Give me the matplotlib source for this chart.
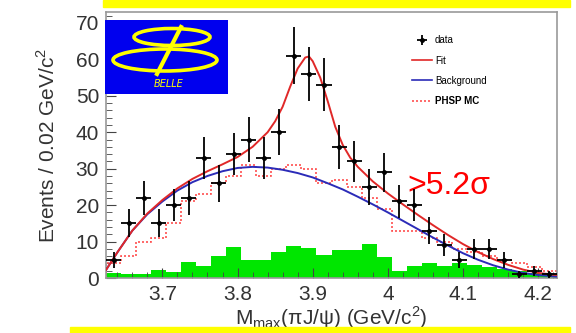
import numpy as np
import matplotlib.pyplot as plt
from matplotlib.patches import Rectangle, Ellipse
from matplotlib.lines import Line2D
from matplotlib.ticker import MultipleLocator

plt.rcParams['font.family'] = ['Liberation Sans', 'DejaVu Sans']
plt.rcParams['mathtext.fontset'] = 'custom'
plt.rcParams['mathtext.rm'] = 'Liberation Sans'

# bins of 0.02 GeV/c^2
BIN_LO = 3.625
BIN_W = 0.02
data_y = [5, 15, 22, 15, 20, 22, 33, 26, 34, 38,
          33, 40, 61, 56, 53, 36, 32, 25, 29, 21,
          20, 13, 9, 5, 8, 8, 5, 1, 2, 1]
sideband = [1.5, 1, 1, 2.2, 1.7, 4.5, 3.4, 6.1, 8.4, 5,
            5, 7.2, 8.8, 8.2, 6.4, 7.7, 7.7, 9.2, 5.8, 2,
            3.3, 4.2, 3.3, 4, 3.6, 3.1, 2.6, 2, 1.3, 1]
phsp = [4, 6, 10, 11, 15, 21, 23, 26, 28, 31,
        28, 30, 31, 30, 26, 27, 25, 22, 19, 13,
        13, 11, 10, 8, 7, 6, 5, 4, 3, 2]

# curves
bkg_x = [3.625, 3.64, 3.66, 3.68, 3.70, 3.72, 3.74, 3.76, 3.78, 3.80, 3.82,
         3.84, 3.86, 3.88, 3.90, 3.92, 3.94, 3.96, 3.98, 4.00, 4.02, 4.04,
         4.06, 4.08, 4.10, 4.12, 4.14, 4.16, 4.18, 4.20, 4.225]
bkg_y = [2.2, 7, 13, 17.5, 21, 24, 26.3, 28, 29.3, 30.2, 30.5,
         30.3, 29.7, 28.8, 27.6, 26, 24.3, 22.3, 20.2, 18, 15.7, 13.4,
         11.1, 8.9, 6.8, 5, 3.5, 2.3, 1.4, 0.8, 0.4]
fit_x = [3.625, 3.64, 3.66, 3.68, 3.70, 3.72, 3.74, 3.76, 3.78, 3.80, 3.82,
         3.84, 3.85, 3.86, 3.87, 3.88, 3.89, 3.895, 3.90, 3.91, 3.92, 3.93,
         3.94, 3.95, 3.96, 3.98, 4.00, 4.02, 4.04, 4.06, 4.08, 4.10, 4.12,
         4.14, 4.16, 4.18, 4.20, 4.225]
fit_y = [2.2, 7, 13, 17.7, 21.4, 24.6, 27.2, 29.3, 31.2, 33.2, 36,
         40, 43, 47, 52.5, 57.5, 60.5, 60.8, 59.5, 55, 48.5, 41.5,
         36.5, 33, 30.5, 26.5, 23.2, 20.2, 17.3, 14.5, 11.8, 9.3, 7.1,
         5.2, 3.6, 2.3, 1.4, 0.8]

edges = BIN_LO + BIN_W * np.arange(len(data_y) + 1)
centers = 0.5 * (edges[:-1] + edges[1:])
data_y = np.array(data_y, dtype=float)

fig = plt.figure(figsize=(5.76, 3.33), dpi=100)
W, H = 576, 333

# yellow slide decorations
fig.patches.append(Rectangle((103 / W, 1 - 7 / H), (570 - 103) / W, 7 / H,
                             transform=fig.transFigure, color='#ffff00', zorder=0))
fig.patches.append(Rectangle((70 / W, 0), (570 - 70) / W, 6 / H,
                             transform=fig.transFigure, color='#ffff00', zorder=0))

ax = fig.add_axes([106 / W, 1 - 278 / H, (557 - 106) / W, (278 - 12) / H])

ax.stairs(sideband, edges, fill=True, color='#00e600', lw=0, zorder=1)
ax.stairs(phsp, edges, color='#ff5050', ls=(0, (1.2, 1.2)), lw=1.2, zorder=2)
ax.plot(bkg_x, bkg_y, color='#2b2bb8', lw=1.4, zorder=3)
ax.plot(fit_x, fit_y, color='#e02828', lw=1.4, zorder=3)
eb = ax.errorbar(centers, data_y, yerr=np.sqrt(data_y), xerr=BIN_W / 2, fmt='o',
                 ms=2.5, color='black', ecolor='black', elinewidth=1.3, capsize=0,
                 zorder=4)

ax.set_xlim(edges[0], edges[-1])
ax.set_ylim(0, 73)
ax.xaxis.set_major_locator(MultipleLocator(0.1))
ax.xaxis.set_minor_locator(MultipleLocator(0.02))
ax.yaxis.set_major_locator(MultipleLocator(10))
ax.yaxis.set_minor_locator(MultipleLocator(2))
ax.set_xticks([3.7, 3.8, 3.9, 4.0, 4.1, 4.2], ['3.7', '3.8', '3.9', '4', '4.1', '4.2'])
ax.tick_params(which='both', direction='in', labelsize=15, colors='#444444',
               labelcolor='#333333')
ax.tick_params(which='major', length=7, width=0.8)
ax.tick_params(which='minor', length=4, width=0.6)
ax.tick_params(axis='x', pad=5)
ax.tick_params(axis='y', pad=5)
for s in ax.spines.values():
    s.set_color('#999999')
    s.set_linewidth(1.2)

ax.set_ylabel('Events / 0.02 GeV/c$^2$', fontsize=15, color='#333333', labelpad=12)
ax.set_xlabel(r'M$_{\rm max}$(πJ/ψ) (GeV/c$^2$)', fontsize=15,
              color='#333333', labelpad=0)

ax.text(0.668, 0.315, '>5.2σ', transform=ax.transAxes, color='#ff0000',
        fontsize=23, ha='left', va='baseline')

handles = [
    eb,
    Line2D([], [], color='#e02828', lw=1.2),
    Line2D([], [], color='#2b2bb8', lw=1.2),
    Line2D([], [], color='#ff5050', lw=1.2, ls=(0, (1.2, 1.2))),
]
leg = ax.legend(handles, ['data', 'Fit', 'Background', 'PHSP MC'],
                loc='upper left', bbox_to_anchor=(0.66, 0.945), frameon=False,
                fontsize=7, handlelength=2.0, handletextpad=0.3,
                labelspacing=1.05)
leg.get_texts()[3].set_fontweight('bold')

# Belle logo
lg = fig.add_axes([105 / W, 1 - 94 / H, (228 - 105) / W, (94 - 20) / H])
lg.set_xlim(0, 123)
lg.set_ylim(74, 0)
lg.axis('off')
lg.add_patch(Rectangle((0, 0), 123, 74, color='#0000ee'))
lg.add_patch(Ellipse((67, 17), 76, 17, fill=False, ec='#ffff00', lw=2.6))
lg.add_patch(Ellipse((60, 40), 104, 22, fill=False, ec='#ffff00', lw=2.6))
lg.plot([76, 52], [7, 54], color='#ffff00', lw=3)
lg.text(64, 64, 'BELLE', color='#ffff00', fontsize=7, style='italic',
        ha='center', va='center', family='DejaVu Sans')

fig.savefig('out.png', dpi=100)
